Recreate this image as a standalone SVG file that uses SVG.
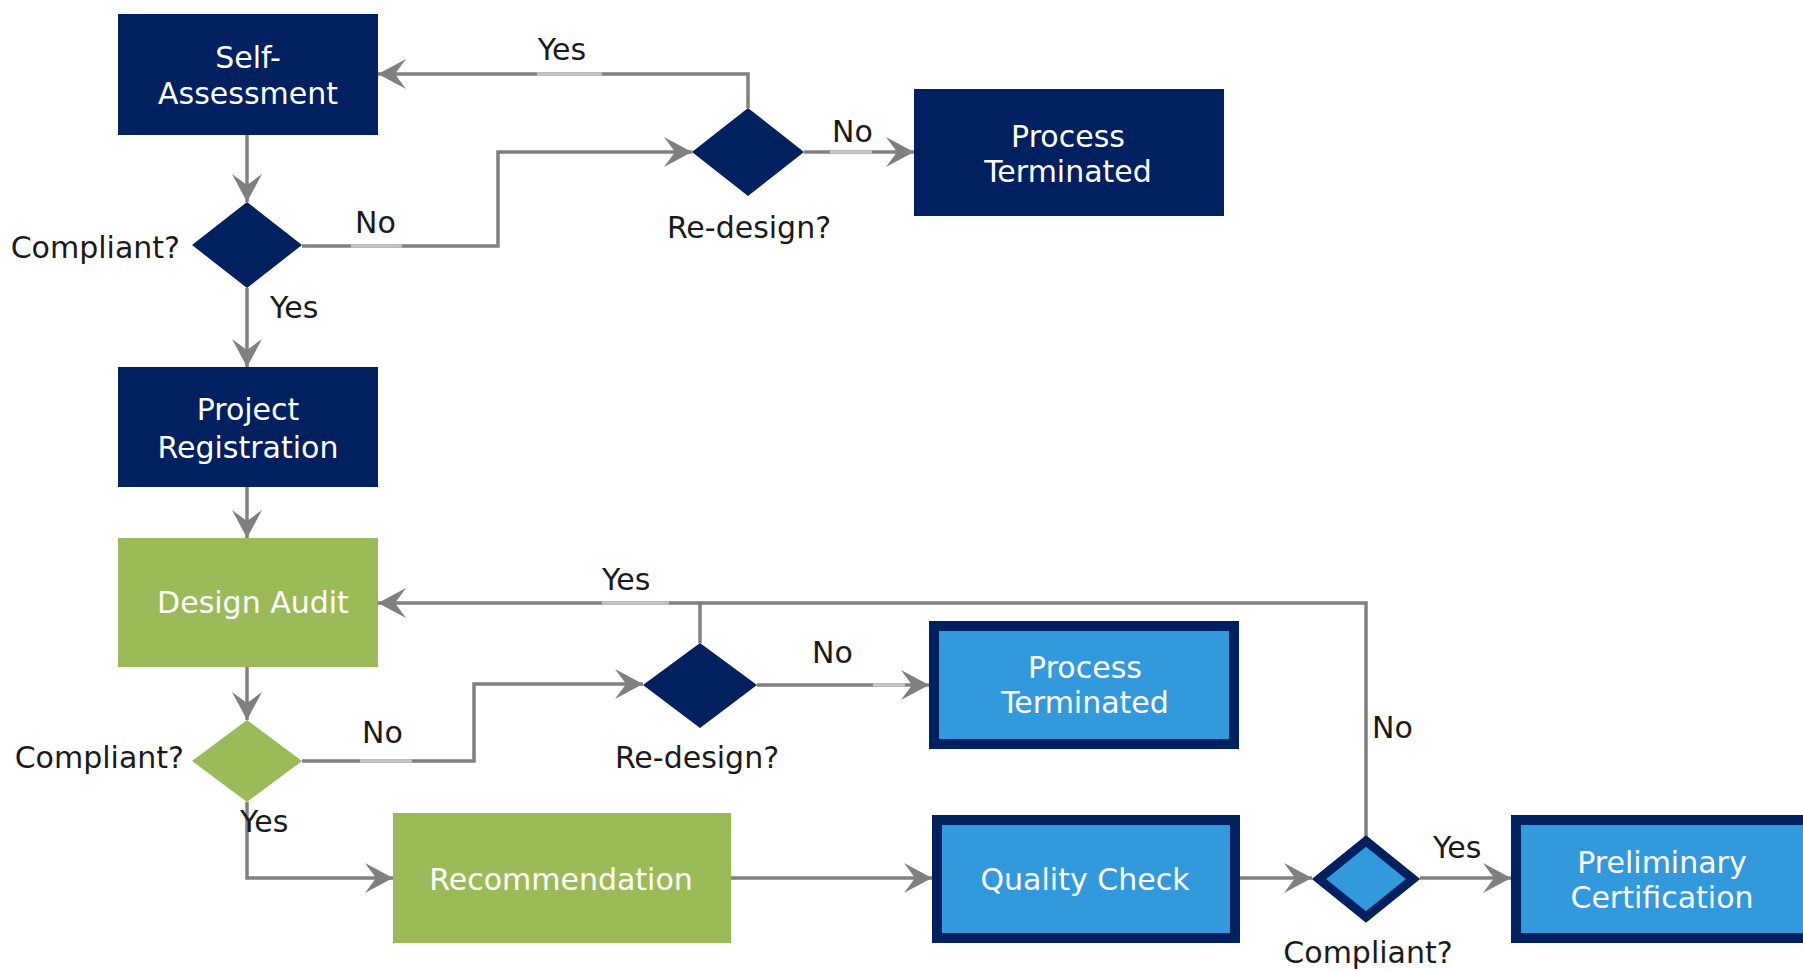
<svg xmlns="http://www.w3.org/2000/svg" width="1803" height="971" viewBox="0 0 1803 971">
<style>
  .navy { fill: #002060; }
  .green { fill: #9BBB59; }
  .blue { fill: #3399DD; stroke: #002060; stroke-width: 10; }
  .bdia { fill: #3399DD; stroke: #002060; stroke-width: 9; stroke-linejoin: miter; }
  .ntext { font-family: "DejaVu Sans", Verdana, sans-serif; font-size: 30px; fill: #FFFFFF; text-anchor: middle; }
  .lbl { font-family: "DejaVu Sans", Verdana, sans-serif; font-size: 30px; fill: #1A1A1A; }
  .mid { text-anchor: middle; }
  .end { text-anchor: end; }
  .conn { fill: none; stroke: #808080; stroke-width: 3.5; }
  .arr { marker-end: url(#ah); }
  .hl { stroke: #C4C4C4; stroke-width: 3.5; fill: none; }
</style>
<defs>
  <marker id="ah" markerUnits="userSpaceOnUse" markerWidth="30" markerHeight="30" refX="28" refY="15" orient="auto" viewBox="0 0 30 30">
    <path d="M0,0 L28,15 L0,30 L11,15 Z" fill="#808080"/>
  </marker>
</defs>
<rect width="1803" height="971" fill="#FFFFFF"/>

<g id="connectors">
  <path class="conn arr" d="M247,135 V202"/>
  <path class="conn arr" d="M302,246 H498 V152 H692"/>
  <path class="conn arr" d="M748,108 V74 H378"/>
  <path class="conn arr" d="M804,152 H914"/>
  <path class="conn arr" d="M247,288 V367"/>
  <path class="conn arr" d="M247,487 V538"/>
  <path class="conn arr" d="M247,667 V720"/>
  <path class="conn arr" d="M302,761 H474 V684 H643"/>
  <path class="conn arr" d="M700,643 V603 H378"/>
  <path class="conn" d="M1366,837 V603 H700"/>
  <path class="conn arr" d="M757,685 H929"/>
  <path class="conn arr" d="M247,802 V878 H393"/>
  <path class="conn arr" d="M731,878 H932"/>
  <path class="conn arr" d="M1240,878 H1312"/>
  <path class="conn arr" d="M1420,878 H1511"/>
  <path class="hl" d="M537,74 H602"/>
  <path class="hl" d="M351,246 H402"/>
  <path class="hl" d="M830,152 H872"/>
  <path class="hl" d="M602,603 H669"/>
  <path class="hl" d="M360,761 H412"/>
  <path class="hl" d="M873,685 H905"/>
</g>

<g id="self-assessment">
  <rect class="navy" x="118" y="14" width="260" height="121"/>
  <text class="ntext" x="248" y="68">Self-</text>
  <text class="ntext" x="248" y="104">Assessment</text>
</g>

<g id="compliant-1">
  <polygon class="navy" points="247,202 302,245 247,288 192,245"/>
  <text class="lbl end" x="180" y="258">Compliant?</text>
</g>

<g id="redesign-1">
  <polygon class="navy" points="748,108 804,152 748,196 692,152"/>
  <text class="lbl mid" x="749" y="238">Re-design?</text>
</g>

<g id="terminated-1">
  <rect class="navy" x="914" y="89" width="310" height="127"/>
  <text class="ntext" x="1068" y="147">Process</text>
  <text class="ntext" x="1068" y="182">Terminated</text>
</g>

<g id="project-registration">
  <rect class="navy" x="118" y="367" width="260" height="120"/>
  <text class="ntext" x="248" y="420">Project</text>
  <text class="ntext" x="248" y="458">Registration</text>
</g>

<g id="design-audit">
  <rect class="green" x="118" y="538" width="260" height="129"/>
  <text class="ntext" x="253" y="613">Design Audit</text>
</g>

<g id="compliant-2">
  <polygon class="green" points="247,720 302,761 247,802 192,761"/>
  <text class="lbl end" x="184" y="768">Compliant?</text>
</g>

<g id="redesign-2">
  <polygon class="navy" points="700,643 757,685 700,728 643,685"/>
  <text class="lbl mid" x="697" y="768">Re-design?</text>
</g>

<g id="terminated-2">
  <rect class="blue" x="934" y="626" width="300" height="118"/>
  <text class="ntext" x="1085" y="678">Process</text>
  <text class="ntext" x="1085" y="713">Terminated</text>
</g>

<g id="recommendation">
  <rect class="green" x="393" y="813" width="338" height="130"/>
  <text class="ntext" x="561" y="890">Recommendation</text>
</g>

<g id="quality-check">
  <rect class="blue" x="937" y="820" width="298" height="118"/>
  <text class="ntext" x="1085" y="890">Quality Check</text>
</g>

<g id="compliant-3">
  <polygon class="bdia" points="1366,841 1413,879 1366,917 1319,879"/>
  <text class="lbl mid" x="1368" y="963">Compliant?</text>
</g>

<g id="preliminary-certification">
  <rect class="blue" x="1516" y="820" width="292" height="118"/>
  <text class="ntext" x="1662" y="873">Preliminary</text>
  <text class="ntext" x="1662" y="908">Certification</text>
</g>

<g id="edge-labels">
  <text class="lbl mid" x="562" y="60">Yes</text>
  <text class="lbl" x="355" y="233">No</text>
  <text class="lbl" x="270" y="318">Yes</text>
  <text class="lbl" x="832" y="142">No</text>
  <text class="lbl" x="602" y="590">Yes</text>
  <text class="lbl" x="362" y="743">No</text>
  <text class="lbl" x="812" y="663">No</text>
  <text class="lbl" x="1372" y="738">No</text>
  <text class="lbl" x="240" y="832">Yes</text>
  <text class="lbl" x="1433" y="858">Yes</text>
</g>
</svg>
